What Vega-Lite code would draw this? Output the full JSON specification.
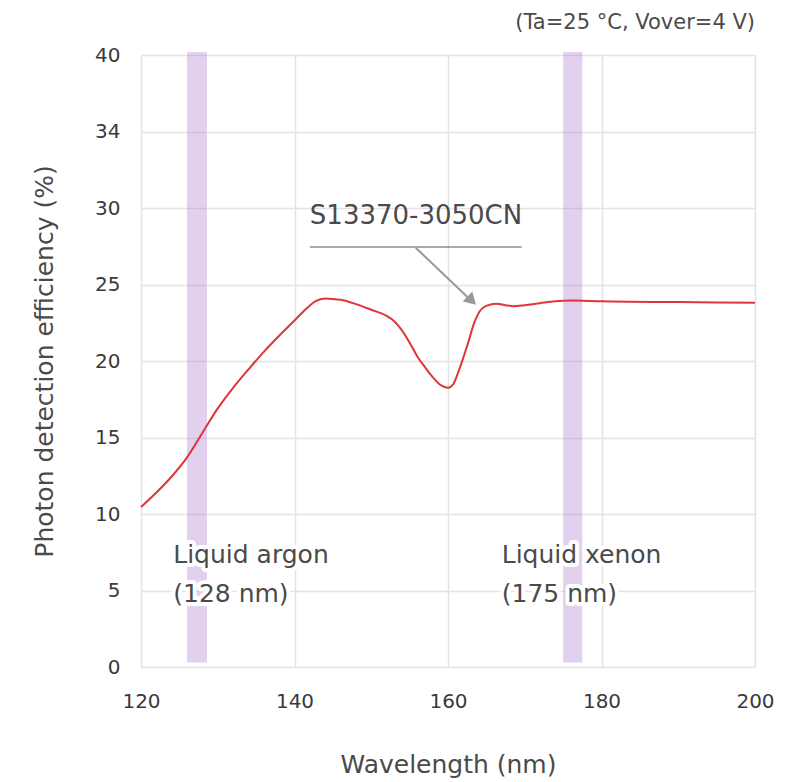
{
  "$schema": "https://vega.github.io/schema/vega-lite/v6.json",
  "autosize": "none",
  "width": 614,
  "height": 612,
  "padding": {"left": 141, "top": 55, "right": 45, "bottom": 115},
  "background": "white",
  "config": {
    "view": {"stroke": null},
    "font": "DejaVu Sans",
    "axis": {
      "domain": false,
      "ticks": false,
      "gridColor": "#e3e3e3",
      "gridWidth": 1.5,
      "labelFont": "DejaVu Sans",
      "titleFont": "DejaVu Sans",
      "labelColor": "#3a3a3a",
      "titleColor": "#4a4a4a",
      "labelFontSize": 20,
      "labelFlush": false,
      "titleFontWeight": "normal"
    }
  },
  "datasets": {
    "curve": [
      {"wl": 120, "pde": 10.45},
      {"wl": 122, "pde": 11.4},
      {"wl": 124, "pde": 12.45},
      {"wl": 126, "pde": 13.7},
      {"wl": 128, "pde": 15.3},
      {"wl": 130, "pde": 16.9},
      {"wl": 132, "pde": 18.25},
      {"wl": 134, "pde": 19.45},
      {"wl": 136, "pde": 20.6},
      {"wl": 138, "pde": 21.65},
      {"wl": 140, "pde": 22.65},
      {"wl": 141.5, "pde": 23.4},
      {"wl": 142.7, "pde": 23.9},
      {"wl": 144, "pde": 24.08},
      {"wl": 145, "pde": 24.06},
      {"wl": 146, "pde": 24.0},
      {"wl": 148, "pde": 23.72},
      {"wl": 150, "pde": 23.35},
      {"wl": 152, "pde": 22.95},
      {"wl": 153, "pde": 22.6},
      {"wl": 154, "pde": 22.0},
      {"wl": 155, "pde": 21.2},
      {"wl": 156, "pde": 20.3},
      {"wl": 157, "pde": 19.6},
      {"wl": 158, "pde": 18.95},
      {"wl": 159, "pde": 18.45},
      {"wl": 160, "pde": 18.25},
      {"wl": 160.7, "pde": 18.5},
      {"wl": 161.5, "pde": 19.5},
      {"wl": 162.5, "pde": 21.0},
      {"wl": 163.5, "pde": 22.6},
      {"wl": 164.2, "pde": 23.3},
      {"wl": 165, "pde": 23.6},
      {"wl": 166.3, "pde": 23.75},
      {"wl": 167.5, "pde": 23.65},
      {"wl": 168.5, "pde": 23.58},
      {"wl": 170, "pde": 23.65},
      {"wl": 172, "pde": 23.78},
      {"wl": 174, "pde": 23.9},
      {"wl": 176, "pde": 23.95},
      {"wl": 180, "pde": 23.9},
      {"wl": 190, "pde": 23.85},
      {"wl": 200, "pde": 23.8}
    ],
    "bands": [
      {"start": 126, "end": 128.6, "bottom": 0.3, "top": 40.2},
      {"start": 175, "end": 177.5, "bottom": 0.3, "top": 40.2}
    ],
    "labels": [
      {"x": 124.2, "y": 6.82, "label": "Liquid argon\n(128 nm)"},
      {"x": 167.0, "y": 6.82, "label": "Liquid xenon\n(175 nm)"}
    ]
  },
  "layer": [
    {
      "data": {"name": "bands"},
      "mark": {"type": "rect", "color": "#b48ad4", "opacity": 0.4},
      "encoding": {
        "x": {"field": "start", "type": "quantitative", "scale": {"domain": [120, 200], "nice": false}, "axis": {"values": [120, 140, 160, 180, 200], "title": "Wavelength (nm)", "titleFontSize": 25, "labelPadding": 24, "titleBaseline": "middle", "titleY": 97, "titleX": 307}},
        "x2": {"field": "end"},
        "y": {"field": "bottom", "type": "quantitative", "scale": {"domain": [0, 40], "nice": false}, "axis": {"values": [0, 5, 10, 15, 20, 25, 30, 35, 40], "labelExpr": "datum.value == 35 ? '34' : datum.label", "title": "Photon detection efficiency (%)", "titleFontSize": 25, "labelPadding": 21, "titleBaseline": "middle", "titleX": -97, "titleY": 306, "titleAngle": -90}},
        "y2": {"field": "top"}
      }
    },
    {
      "data": {"name": "curve"},
      "mark": {"type": "line", "color": "#e0343a", "strokeWidth": 2, "interpolate": "monotone"},
      "encoding": {
        "x": {"field": "wl", "type": "quantitative"},
        "y": {"field": "pde", "type": "quantitative"}
      }
    },
    {
      "data": {"values": [{"x": 142.0, "x2": 169.6, "y": 27.45}]},
      "mark": {"type": "rule", "color": "#555", "strokeWidth": 1.2},
      "encoding": {
        "x": {"field": "x", "type": "quantitative"},
        "x2": {"field": "x2"},
        "y": {"field": "y", "type": "quantitative"}
      }
    },
    {
      "data": {"values": [{"x": 155.8, "y": 27.4, "x2": 162.7, "y2": 24.1}]},
      "mark": {"type": "rule", "color": "#999", "strokeWidth": 2},
      "encoding": {
        "x": {"field": "x", "type": "quantitative"},
        "y": {"field": "y", "type": "quantitative"},
        "x2": {"field": "x2"},
        "y2": {"field": "y2"}
      }
    },
    {
      "data": {"values": [{"x": 163.1, "y": 23.95}]},
      "mark": {"type": "point", "shape": "triangle-up", "angle": 134, "size": 190, "filled": true, "color": "#999", "opacity": 1},
      "encoding": {
        "x": {"field": "x", "type": "quantitative"},
        "y": {"field": "y", "type": "quantitative"}
      }
    },
    {
      "data": {"values": [{"x": 142.0, "y": 28.93, "label": "S13370-3050CN"}]},
      "mark": {"type": "text", "align": "left", "baseline": "alphabetic", "fontSize": 26, "color": "#4a4a4a"},
      "encoding": {
        "x": {"field": "x", "type": "quantitative"},
        "y": {"field": "y", "type": "quantitative"},
        "text": {"field": "label"}
      }
    },
    {
      "data": {"name": "labels"},
      "mark": {"type": "text", "align": "left", "baseline": "alphabetic", "fontSize": 25, "lineBreak": "\n", "lineHeight": 39, "fill": "#ffffff", "stroke": "#ffffff", "strokeWidth": 8, "strokeJoin": "round", "strokeOpacity": 1},
      "encoding": {
        "x": {"field": "x", "type": "quantitative"},
        "y": {"field": "y", "type": "quantitative"},
        "text": {"field": "label"}
      }
    },
    {
      "data": {"name": "labels"},
      "mark": {"type": "text", "align": "left", "baseline": "alphabetic", "fontSize": 25, "lineBreak": "\n", "lineHeight": 39, "color": "#4a4a4a"},
      "encoding": {
        "x": {"field": "x", "type": "quantitative"},
        "y": {"field": "y", "type": "quantitative"},
        "text": {"field": "label"}
      }
    },
    {
      "data": {"values": [{"x": 200, "y": 42.1, "label": "(Ta=25 °C, Vover=4 V)"}]},
      "mark": {"type": "text", "align": "right", "baseline": "middle", "fontSize": 21, "color": "#4a4a4a", "clip": false},
      "encoding": {
        "x": {"field": "x", "type": "quantitative"},
        "y": {"field": "y", "type": "quantitative"},
        "text": {"field": "label"}
      }
    }
  ]
}
